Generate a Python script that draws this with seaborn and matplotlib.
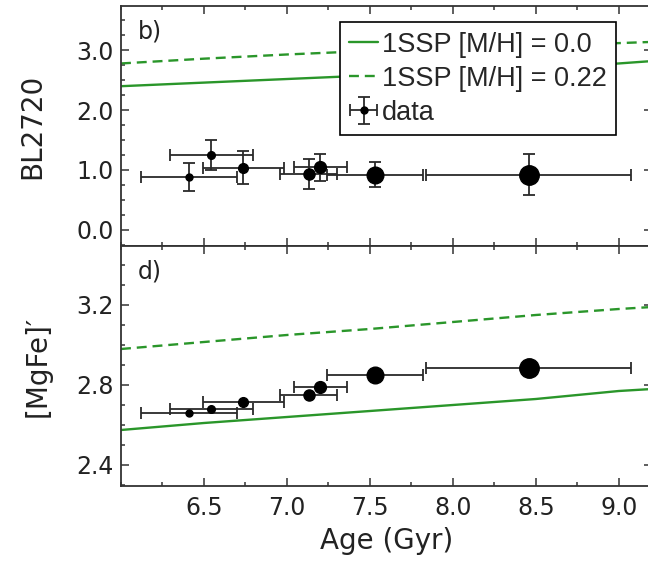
import matplotlib
matplotlib.use("Agg")
import matplotlib.pyplot as plt
import seaborn as sns
import pandas as pd
from matplotlib.ticker import MultipleLocator, FixedLocator, FormatStrFormatter

# data
ages = [6.41, 6.545, 6.738, 7.13, 7.20, 7.53, 8.456]
age_err = [0.29, 0.25, 0.245, 0.17, 0.16, 0.29, 0.62]
bl2720 = [0.88, 1.25, 1.04, 0.93, 1.045, 0.92, 0.92]
bl2720_err = [0.23, 0.25, 0.27, 0.25, 0.23, 0.21, 0.34]
mgfe = [2.66, 2.68, 2.713, 2.75, 2.79, 2.85, 2.883]
point_size = [5.0, 5.5, 7, 8, 8.5, 12, 14]
age_ticks = [6.5, 7.0, 7.5, 8.0, 8.5, 9.0]

# 1SSP model tracks
model_age = [6.0, 6.5, 7.0, 7.5, 8.0, 8.5, 9.0, 9.2]
bl_ssp_00 = [2.40, 2.46, 2.52, 2.58, 2.64, 2.70, 2.78, 2.82]
bl_ssp_022 = [2.78, 2.86, 2.93, 2.99, 3.04, 3.08, 3.12, 3.14]
mgfe_ssp_00 = [2.575, 2.61, 2.64, 2.67, 2.70, 2.73, 2.77, 2.78]
mgfe_ssp_022 = [2.98, 3.015, 3.05, 3.08, 3.115, 3.15, 3.18, 3.19]

sns.set_style("ticks")
plt.rcParams['font.family'] = ['DejaVu Sans']

green = '#2a962a'
edge = '#333333'

fig = plt.figure(figsize=(6.48, 5.63), dpi=100)
W, H = 648, 563
ax1 = fig.add_axes([121 / W, 1 - 246 / H, 531 / W, 240 / H])
ax2 = fig.add_axes([121 / W, 1 - 486 / H, 531 / W, 240 / H])

models = pd.DataFrame({'age': model_age, 'bl00': bl_ssp_00, 'bl022': bl_ssp_022,
                       'mg00': mgfe_ssp_00, 'mg022': mgfe_ssp_022})


def draw_panel(ax, y, yerr, c00, c022):
    sns.lineplot(data=models, x='age', y=c00, ax=ax, color=green, lw=1.7,
                 label='1SSP [M/H] = 0.0')
    sns.lineplot(data=models, x='age', y=c022, ax=ax, color=green, lw=1.7,
                 linestyle=(0, (4.2, 2.5)), label='1SSP [M/H] = 0.22')
    for i in range(len(ages)):
        ax.errorbar(ages[i], y[i], xerr=age_err[i],
                    yerr=None if yerr is None else yerr[i],
                    fmt='o', color='black', ms=point_size[i], ecolor='#2a2a2a',
                    elinewidth=1.3, capsize=4.5, capthick=1.3,
                    label='data' if i == 0 else None, zorder=3)


draw_panel(ax1, bl2720, bl2720_err, 'bl00', 'bl022')
draw_panel(ax2, mgfe, None, 'mg00', 'mg022')

for ax in (ax1, ax2):
    ax.set_xlim(6.0, 9.2)
    ax.xaxis.set_major_locator(FixedLocator(age_ticks))
    ax.xaxis.set_minor_locator(MultipleLocator(0.25))
    ax.xaxis.set_major_formatter(FormatStrFormatter('%.1f'))
    ax.yaxis.set_major_formatter(FormatStrFormatter('%.1f'))
    ax.tick_params(which='both', direction='in', top=True, right=True,
                   color=edge, labelsize=17, labelcolor='#222222')
    ax.tick_params(which='major', length=6, width=1.1)
    ax.tick_params(which='minor', length=2.6, width=1.1)
    ax.tick_params(axis='x', pad=7)
    ax.tick_params(axis='y', pad=5)
    for s in ax.spines.values():
        s.set_color(edge)
        s.set_linewidth(1.3)

ax1.set_ylim(-0.27, 3.74)
ax1.yaxis.set_major_locator(MultipleLocator(1.0))
ax1.yaxis.set_minor_locator(MultipleLocator(0.25))
ax1.tick_params(axis='x', labelbottom=False)
ax2.set_ylim(2.295, 3.495)
ax2.yaxis.set_major_locator(MultipleLocator(0.4))
ax2.yaxis.set_minor_locator(MultipleLocator(0.1))

ax1.set_xlabel('')
ax2.set_xlabel('Age (Gyr)', fontsize=20, color='#222222')
ax2.xaxis.set_label_coords(0.5, -0.17)
ax1.set_ylabel('BL2720', fontsize=20, color='#222222')
ax2.set_ylabel('[MgFe]\u2032', fontsize=20, color='#222222')
ax1.yaxis.set_label_coords(-0.14, 0.5)
ax2.yaxis.set_label_coords(-0.13, 0.5)

ax1.text(0.032, 0.945, 'b)', transform=ax1.transAxes, fontsize=17,
         ha='left', va='top', color='#222222')
ax2.text(0.032, 0.945, 'd)', transform=ax2.transAxes, fontsize=17,
         ha='left', va='top', color='#222222')

ax2.get_legend().remove()
h, l = ax1.get_legend_handles_labels()
leg = ax1.legend(h, l, loc='upper left', bbox_to_anchor=(0.4124, 0.933),
                 borderaxespad=0, fancybox=False, framealpha=1,
                 edgecolor='black', handlelength=1.05, handletextpad=0.15,
                 borderpad=0.35, labelspacing=0.3,
                 prop={'family': 'Liberation Sans', 'size': 19.5})
leg.get_frame().set_linewidth(1.2)

fig.savefig('out.png', dpi=100)
